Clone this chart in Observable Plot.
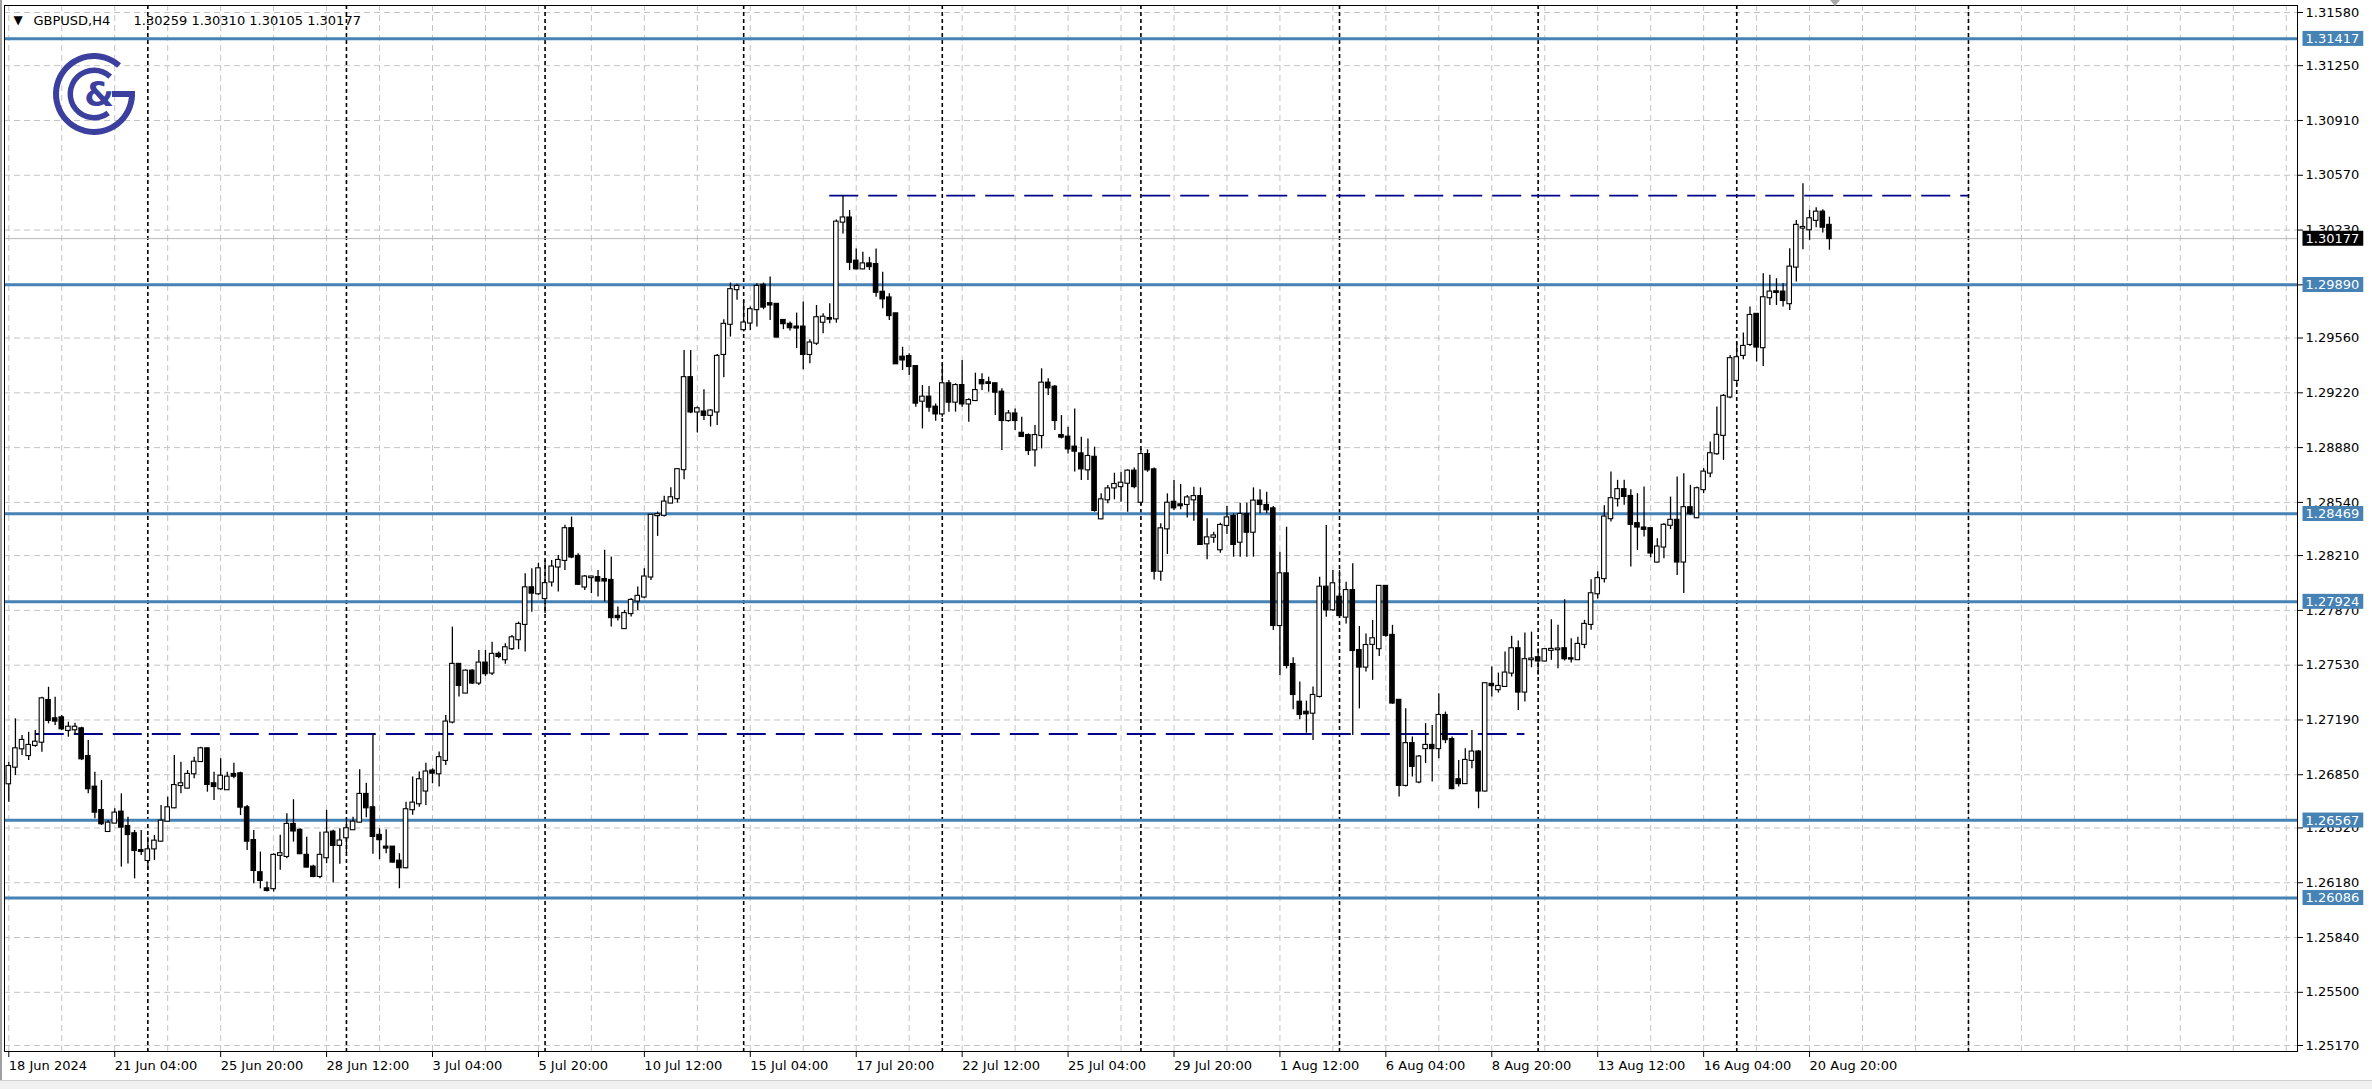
<!DOCTYPE html>
<html>
<head>
<meta charset="utf-8">
<script src="https://cdn.jsdelivr.net/npm/d3@7"></script>
<script src="https://cdn.jsdelivr.net/npm/@observablehq/plot@0.6"></script>
<style>
  html, body { margin: 0; padding: 0; background: #ffffff; }
  #chart { position: relative; width: 2372px; height: 1089px; overflow: hidden; }
  #chart svg { display: block; }
</style>
</head>
<body>
<div id="chart"></div>
<script>
// ---------------- data ----------------
const symbol = "GBPUSD,H4";
const lastBarOHLC = [1.30259, 1.30310, 1.30105, 1.30177];

const opens = [1.26794,1.26897,1.27011,1.26969,1.27032,1.27052,1.27311,1.27197,1.27203,1.27125,1.27129,1.27135,1.26963,1.26773,1.26628,1.26498,1.26550,1.26618,1.26529,1.26484,1.26380,1.26318,1.26390,1.26438,1.26562,1.26645,1.26783,1.26767,1.26856,1.26932,1.27011,1.26794,1.26763,1.26757,1.26852,1.26856,1.26645,1.26442,1.26242,1.26142,1.26143,1.26350,1.26343,1.26542,1.26505,1.26350,1.26277,1.26219,1.26335,1.26494,1.26412,1.26459,1.26509,1.26556,1.26728,1.26645,1.26474,1.26401,1.26401,1.26314,1.26273,1.26633,1.26670,1.26749,1.26873,1.26856,1.26939,1.27177,1.27535,1.27357,1.27493,1.27419,1.27543,1.27481,1.27597,1.27564,1.27632,1.27688,1.27783,1.28010,1.27973,1.27943,1.28046,1.28139,1.28180,1.28377,1.28205,1.28015,1.28073,1.28073,1.28061,1.28056,1.27833,1.27757,1.27850,1.27928,1.27953,1.28077,1.28458,1.28460,1.28536,1.28563,1.28743,1.29314,1.29101,1.29101,1.29080,1.29101,1.29458,1.29645,1.29860,1.29612,1.29653,1.29736,1.29887,1.29773,1.29769,1.29669,1.29645,1.29628,1.29628,1.29458,1.29528,1.29658,1.29681,1.29679,1.30279,1.30305,1.30037,1.29989,1.30020,1.30016,1.29844,1.29809,1.29710,1.29441,1.29445,1.29383,1.29168,1.29193,1.29131,1.29089,1.29276,1.29162,1.29265,1.29151,1.29172,1.29296,1.29282,1.29276,1.29224,1.29048,1.29089,1.28969,1.28955,1.28866,1.28955,1.29280,1.29255,1.28955,1.28945,1.28883,1.28841,1.28742,1.28820,1.28438,1.28556,1.28630,1.28638,1.28659,1.28734,1.28541,1.28837,1.28742,1.28113,1.28376,1.28541,1.28525,1.28527,1.28556,1.28576,1.28283,1.28324,1.28246,1.28397,1.28452,1.28293,1.28465,1.28355,1.28548,1.28521,1.28500,1.27776,1.28097,1.27534,1.27300,1.27238,1.27232,1.27336,1.28014,1.27873,1.27952,1.27828,1.27993,1.27621,1.27518,1.27659,1.27632,1.28019,1.27715,1.27312,1.26784,1.27043,1.26805,1.27012,1.27032,1.27012,1.27218,1.27068,1.26819,1.26795,1.26939,1.26991,1.26749,1.27411,1.27378,1.27398,1.27481,1.27632,1.27363,1.27564,1.27576,1.27556,1.27622,1.27626,1.27632,1.27570,1.27564,1.27659,1.27783,1.27973,1.28067,1.28439,1.28563,1.28619,1.28577,1.28408,1.28381,1.28377,1.28170,1.28263,1.28398,1.28429,1.28170,1.28507,1.28445,1.28619,1.28722,1.28842,1.28956,1.29194,1.29297,1.29452,1.29520,1.29707,1.29500,1.29810,1.29847,1.29845,1.29773,1.30000,1.30242,1.30232,1.30290,1.30341,1.30259];

const highs = [1.26928,1.27197,1.27094,1.27114,1.27125,1.27331,1.27393,1.27331,1.27218,1.27176,1.27170,1.27145,1.27063,1.26866,1.26814,1.26566,1.26639,1.26732,1.26587,1.26504,1.26504,1.26463,1.26473,1.26659,1.26711,1.26969,1.26928,1.26876,1.26959,1.27021,1.27015,1.26866,1.26949,1.26866,1.26922,1.26866,1.26659,1.26504,1.26370,1.26184,1.26360,1.26474,1.26608,1.26695,1.26515,1.26463,1.26288,1.26494,1.26629,1.26505,1.26515,1.26577,1.26587,1.26881,1.26798,1.27104,1.26515,1.26509,1.26405,1.26360,1.26680,1.26836,1.26867,1.26922,1.26887,1.26991,1.27218,1.27766,1.27539,1.27501,1.27501,1.27621,1.27621,1.27673,1.27611,1.27663,1.27714,1.27797,1.28097,1.28128,1.28163,1.28180,1.28180,1.28211,1.28398,1.28449,1.28222,1.28087,1.28081,1.28118,1.28243,1.28201,1.27891,1.27870,1.27943,1.28015,1.28129,1.28464,1.28480,1.28578,1.28631,1.28749,1.29483,1.29483,1.29132,1.29239,1.29115,1.29458,1.29674,1.29901,1.29893,1.29794,1.29752,1.29897,1.29901,1.29938,1.29773,1.29674,1.29659,1.29715,1.29783,1.29550,1.29762,1.29710,1.29772,1.30293,1.30444,1.30351,1.30113,1.30092,1.30061,1.30113,1.29968,1.29834,1.29714,1.29503,1.29462,1.29389,1.29265,1.29259,1.29151,1.29400,1.29296,1.29276,1.29420,1.29183,1.29342,1.29338,1.29317,1.29280,1.29245,1.29110,1.29120,1.29069,1.28965,1.29017,1.29369,1.29307,1.29265,1.29079,1.29007,1.29120,1.28945,1.28934,1.28883,1.28593,1.28645,1.28721,1.28727,1.28742,1.28754,1.28872,1.28866,1.28754,1.28407,1.28593,1.28676,1.28651,1.28583,1.28634,1.28630,1.28438,1.28355,1.28411,1.28514,1.28469,1.28535,1.28535,1.28630,1.28618,1.28603,1.28514,1.28231,1.28386,1.27576,1.27425,1.27307,1.27394,1.28076,1.28397,1.28117,1.28117,1.28045,1.28159,1.27770,1.27724,1.27808,1.28025,1.28025,1.27777,1.27312,1.27260,1.27084,1.26970,1.27167,1.27156,1.27353,1.27239,1.27084,1.26939,1.27012,1.27125,1.27001,1.27419,1.27518,1.27481,1.27611,1.27709,1.27680,1.27729,1.27735,1.27632,1.27632,1.27812,1.27777,1.27936,1.27694,1.27704,1.27808,1.28060,1.28110,1.28520,1.28728,1.28677,1.28677,1.28619,1.28594,1.28635,1.28377,1.28315,1.28408,1.28573,1.28697,1.28718,1.28646,1.28635,1.28749,1.28915,1.29132,1.29210,1.29452,1.29529,1.29591,1.29752,1.29711,1.29959,1.29949,1.29928,1.29897,1.30114,1.30290,1.30517,1.30352,1.30368,1.30356,1.30310];

const lows = [1.26680,1.26845,1.26969,1.26938,1.27021,1.26990,1.27166,1.27156,1.27125,1.27083,1.27094,1.26938,1.26732,1.26577,1.26535,1.26494,1.26546,1.26277,1.26297,1.26204,1.26349,1.26256,1.26318,1.26432,1.26556,1.26639,1.26732,1.26763,1.26825,1.26928,1.26742,1.26690,1.26752,1.26752,1.26825,1.26597,1.26380,1.26173,1.26142,1.26122,1.26122,1.26257,1.26329,1.26432,1.26356,1.26273,1.26211,1.26205,1.26298,1.26178,1.26294,1.26360,1.26505,1.26550,1.26583,1.26356,1.26323,1.26360,1.26302,1.26143,1.26267,1.26598,1.26649,1.26660,1.26794,1.26774,1.26908,1.27166,1.27332,1.27353,1.27410,1.27404,1.27460,1.27466,1.27570,1.27535,1.27621,1.27626,1.27611,1.27859,1.27963,1.27850,1.28015,1.27984,1.28118,1.28191,1.28025,1.27994,1.27974,1.27953,1.27922,1.27767,1.27804,1.27757,1.27829,1.27870,1.27943,1.28056,1.28329,1.28449,1.28532,1.28536,1.28681,1.29090,1.28970,1.29049,1.29008,1.29018,1.29314,1.29566,1.29794,1.29597,1.29607,1.29628,1.29736,1.29669,1.29562,1.29612,1.29603,1.29494,1.29363,1.29401,1.29514,1.29586,1.29648,1.29652,1.30206,1.29979,1.29983,1.29983,1.29979,1.29813,1.29741,1.29668,1.29396,1.29358,1.29327,1.29131,1.28996,1.29100,1.29044,1.29069,1.29100,1.29100,1.29131,1.29038,1.29168,1.29234,1.29224,1.29079,1.28862,1.29038,1.28986,1.28945,1.28831,1.28759,1.28872,1.29203,1.28986,1.28934,1.28841,1.28728,1.28676,1.28676,1.28479,1.28432,1.28531,1.28556,1.28541,1.28479,1.28624,1.28521,1.28727,1.28059,1.28051,1.28217,1.28490,1.28494,1.28444,1.28423,1.28275,1.28184,1.28287,1.28225,1.28341,1.28200,1.28200,1.28200,1.28200,1.28469,1.28469,1.27745,1.27466,1.27507,1.27253,1.27191,1.27108,1.27063,1.27327,1.27828,1.27865,1.27828,1.27786,1.27094,1.27259,1.27487,1.27436,1.27584,1.27704,1.27287,1.26712,1.26774,1.26836,1.26795,1.26919,1.26805,1.26950,1.27043,1.26757,1.26774,1.26790,1.26888,1.26639,1.26743,1.27332,1.27357,1.27394,1.27456,1.27249,1.27301,1.27514,1.27467,1.27549,1.27560,1.27508,1.27556,1.27543,1.27560,1.27632,1.27746,1.27940,1.28040,1.28418,1.28511,1.28522,1.28139,1.28242,1.28325,1.28197,1.28164,1.28191,1.28371,1.28087,1.27974,1.28460,1.28439,1.28594,1.28693,1.28832,1.28801,1.29183,1.29266,1.29425,1.29508,1.29411,1.29384,1.29762,1.29762,1.29752,1.29731,1.29907,1.30108,1.30166,1.30244,1.30211,1.30105];

const closes = [1.26901,1.27011,1.27063,1.27032,1.27052,1.27321,1.27187,1.27183,1.27135,1.27145,1.27145,1.26949,1.26763,1.26618,1.26546,1.26550,1.26612,1.26525,1.26479,1.26380,1.26374,1.26384,1.26438,1.26562,1.26645,1.26783,1.26794,1.26852,1.26928,1.27011,1.26790,1.26777,1.26841,1.26835,1.26841,1.26649,1.26438,1.26256,1.26194,1.26132,1.26350,1.26360,1.26542,1.26501,1.26360,1.26277,1.26219,1.26350,1.26488,1.26412,1.26439,1.26515,1.26556,1.26728,1.26645,1.26467,1.26447,1.26395,1.26308,1.26273,1.26633,1.26674,1.26819,1.26867,1.26860,1.26956,1.27177,1.27535,1.27404,1.27493,1.27419,1.27543,1.27477,1.27597,1.27584,1.27638,1.27700,1.27783,1.28010,1.27977,1.28128,1.28036,1.28139,1.28180,1.28377,1.28201,1.28032,1.28077,1.28077,1.28052,1.28052,1.27825,1.27825,1.27850,1.27932,1.27957,1.28077,1.28460,1.28464,1.28542,1.28569,1.28743,1.29314,1.29101,1.29121,1.29080,1.29107,1.29446,1.29645,1.29860,1.29880,1.29653,1.29736,1.29880,1.29752,1.29765,1.29566,1.29649,1.29624,1.29622,1.29458,1.29529,1.29686,1.29689,1.29677,1.30279,1.30305,1.30030,1.29989,1.30020,1.30003,1.29844,1.29803,1.29699,1.29400,1.29424,1.29383,1.29156,1.29193,1.29131,1.29089,1.29276,1.29162,1.29265,1.29151,1.29172,1.29234,1.29276,1.29278,1.29224,1.29048,1.29089,1.29048,1.28949,1.28862,1.28955,1.29280,1.29251,1.29048,1.28945,1.28872,1.28858,1.28748,1.28825,1.28490,1.28556,1.28624,1.28651,1.28659,1.28734,1.28638,1.28837,1.28742,1.28113,1.28376,1.28535,1.28506,1.28519,1.28568,1.28576,1.28279,1.28320,1.28332,1.28397,1.28444,1.28279,1.28465,1.28355,1.28548,1.28527,1.28494,1.27776,1.28097,1.27528,1.27348,1.27224,1.27228,1.27342,1.28014,1.27873,1.28035,1.27838,1.27993,1.27621,1.27518,1.27652,1.27694,1.28019,1.27715,1.27295,1.26784,1.27043,1.26902,1.26960,1.27032,1.27012,1.27218,1.27068,1.26764,1.26795,1.26939,1.26991,1.26749,1.27415,1.27403,1.27398,1.27481,1.27632,1.27363,1.27564,1.27568,1.27556,1.27626,1.27628,1.27630,1.27570,1.27568,1.27659,1.27783,1.27973,1.28067,1.28449,1.28563,1.28619,1.28577,1.28404,1.28387,1.28373,1.28226,1.28263,1.28398,1.28429,1.28170,1.28507,1.28470,1.28625,1.28728,1.28842,1.28956,1.29198,1.29432,1.29438,1.29508,1.29700,1.29504,1.29810,1.29845,1.29843,1.29793,1.30000,1.30259,1.30246,1.30300,1.30341,1.30248,1.30177];

// time axis: bar index of each label, and the label text
const xTickIndex = [0,16,32,48,64,80,96,112,128,144,160,176,192,208,224,240,256,272];
const xTickLabels = ["18 Jun 2024","21 Jun 04:00","25 Jun 20:00","28 Jun 12:00","3 Jul 04:00","5 Jul 20:00","10 Jul 12:00","15 Jul 04:00","17 Jul 20:00","22 Jul 12:00","25 Jul 04:00","29 Jul 20:00","1 Aug 12:00","6 Aug 04:00","8 Aug 20:00","13 Aug 12:00","16 Aug 04:00","20 Aug 20:00"];

// price axis tick labels
const yTickLabels = [1.31580,1.31250,1.30910,1.30570,1.30230,1.29890,1.29560,1.29220,1.28880,1.28540,1.28210,1.27870,1.27530,1.27190,1.26850,1.26520,1.26180,1.25840,1.25500,1.25170];

// horizontal support / resistance levels
const levelValues = [1.31417, 1.29890, 1.28469, 1.27924, 1.26567, 1.26086];
const currentPrice = 1.30177;

// dashed trend levels (price, first bar, last bar)
const dashedValues = [1.30444, 1.27103];
const dashedFrom = [124, 4];
const dashedTo = [296, 229];

// weekly period separators (bar index) and vertical line
const separatorIndex = [21, 51, 81, 111, 141, 171, 201, 231, 261, 296];

// ---------------- chart ----------------
const W = 2372, H = 1089;
const bars = opens.map((o, i) => ({i, o, h: highs[i], l: lows[i], c: closes[i]}));
const dashed = dashedValues.map((v, k) => ({v, a: dashedFrom[k], b: dashedTo[k]}));
const gridIndex = d3.range(0, 346, 8);
const tickLabelOf = new Map(xTickIndex.map((d, k) => [d, xTickLabels[k]]));
const fmt = d3.format(".5f");

const chart = Plot.plot({
  width: W,
  height: H,
  marginLeft: 4,
  marginRight: 75,
  marginTop: 5,
  marginBottom: 38,
  style: {fontFamily: "'DejaVu Sans', sans-serif", fontSize: "13px", background: "#ffffff", color: "#000"},
  x: {type: "linear", domain: [-0.65, 345.7]},
  y: {type: "linear", domain: [1.251328, 1.316234]},
  color: {type: "identity"},
  marks: [
    // grid
    Plot.ruleY(yTickLabels, {y: d => d, stroke: "#c4c4c4", strokeWidth: 1, strokeDasharray: "6,4"}),
    Plot.ruleX(gridIndex, {x: d => d, stroke: "#c4c4c4", strokeWidth: 1, strokeDasharray: "6,4"}),
    // period separators
    Plot.ruleX(separatorIndex, {x: d => d, stroke: "#000", strokeWidth: 1.6, strokeDasharray: "4,3"}),
    // current price line
    Plot.ruleY([currentPrice], {y: d => d, stroke: "#b8b8b8", strokeWidth: 1}),
    // levels
    Plot.ruleY(levelValues, {y: d => d, stroke: "#4682b4", strokeWidth: 3}),
    Plot.ruleY(dashed, {y: "v", x1: "a", x2: "b", stroke: "#00008b", strokeWidth: 1.8, strokeDasharray: "29,10"}),
    // candles
    Plot.ruleX(bars, {x: "i", y1: "l", y2: "h", stroke: "#000", strokeWidth: 1.3}),
    Plot.rect(bars, {
      x1: d => d.i - 0.34, x2: d => d.i + 0.34,
      y1: d => Math.min(d.o, d.c), y2: d => Math.max(d.o, d.c),
      fill: d => d.c >= d.o ? "#ffffff" : "#000000",
      stroke: "#000", strokeWidth: 1.1,
      insetTop: -0.5, insetBottom: -0.5
    }),
    Plot.frame({stroke: "#000", strokeWidth: 1}),
    // axes
    Plot.axisY(yTickLabels, {anchor: "right", tickSize: 5, tickPadding: 3, tickFormat: fmt, fontSize: 13}),
    Plot.axisX(xTickIndex, {anchor: "bottom", tickSize: 6, tickPadding: 3, tickFormat: d => tickLabelOf.get(d), textAnchor: "start", dx: 0, fontSize: 13}),
    // right-hand price boxes
    Plot.text(levelValues, {y: d => d, frameAnchor: "right", dx: 8, textAnchor: "start", text: d => fmt(d), fill: "#ffffff", fontSize: 13, ariaDescription: "level-label"}),
    Plot.text([currentPrice], {y: d => d, frameAnchor: "right", dx: 8, textAnchor: "start", text: d => fmt(d), fill: "#ffffff", fontSize: 13, ariaDescription: "price-label"}),
    // header
    Plot.text(["\u25BC"], {frameAnchor: "top-left", dx: 9, dy: 15, lineAnchor: "middle", textAnchor: "start", text: d => d, fontSize: 12}),
    Plot.text([symbol], {frameAnchor: "top-left", dx: 29, dy: 15, lineAnchor: "middle", textAnchor: "start", text: d => d, fontSize: 13}),
    Plot.text([lastBarOHLC.map(fmt).join(" ")], {frameAnchor: "top-left", dx: 129, dy: 15, lineAnchor: "middle", textAnchor: "start", text: d => d, fontSize: 13})
  ]
});

document.getElementById("chart").appendChild(chart);

// ---------------- label boxes behind right-hand price labels ----------------
const svg = d3.select(chart);
const svgRect = chart.getBoundingClientRect();
function boxes(label, color, values) {
  let g = svg.select(`g[aria-description="${label}"]`);
  let texts;
  if (!g.empty()) {
    texts = g.selectAll("text").nodes();
  } else {
    const wanted = new Set(values.map(fmt));
    texts = svg.selectAll("text").nodes().filter(t => wanted.has(t.textContent) && t.closest("g") &&
      (t.closest("g").getAttribute("fill") === "#ffffff" || t.getAttribute("fill") === "#ffffff"));
  }
  for (const t of texts) {
    const r = t.getBoundingClientRect();
    const el = document.createElementNS("http://www.w3.org/2000/svg", "rect");
    el.setAttribute("x", r.left - svgRect.left - 3);
    el.setAttribute("y", r.top - svgRect.top);
    el.setAttribute("width", r.width + 7);
    el.setAttribute("height", r.height);
    el.setAttribute("fill", color);
    const host = t.parentNode.closest ? t.closest("g") : t.parentNode;
    // insert the box at svg root level, just before the label's group
    let top = host;
    while (top.parentNode && top.parentNode !== chart) top = top.parentNode;
    chart.insertBefore(el, top);
  }
}
boxes("level-label", "#4682b4", levelValues);
boxes("price-label", "#000000", [currentPrice]);

// ---------------- logo ----------------
const logo = svg.append("g").attr("transform", "translate(94,94)").attr("fill", "#3b3f9e");
logo.append("path").attr("d", d3.arc()({innerRadius: 35, outerRadius: 41, startAngle: Math.PI / 2, endAngle: 2 * Math.PI + 0.72}));
logo.append("rect").attr("x", 18).attr("y", -3).attr("width", 23).attr("height", 6);
logo.append("path").attr("d", d3.arc()({innerRadius: 21, outerRadius: 26.5, startAngle: 2.5, endAngle: 2 * Math.PI + 0.75}));
logo.append("text").attr("x", 5).attr("y", 12).attr("text-anchor", "middle")
  .attr("font-family", "'DejaVu Sans', sans-serif").attr("font-weight", "bold").attr("font-size", 34).text("&");

// chart-shift marker and window edges
svg.append("polygon").attr("points", "1830,0 1840,0 1835,6").attr("fill", "#a8a8a8");
svg.append("rect").attr("x", 0).attr("y", 0).attr("width", 2).attr("height", H).attr("fill", "#a0a0a0");
svg.append("rect").attr("x", 0).attr("y", H - 8).attr("width", W).attr("height", 8).attr("fill", "#f0f0f0");
svg.append("line").attr("x1", 0).attr("x2", W).attr("y1", H - 8.5).attr("y2", H - 8.5).attr("stroke", "#d0d0d0");
</script>
</body>
</html>
